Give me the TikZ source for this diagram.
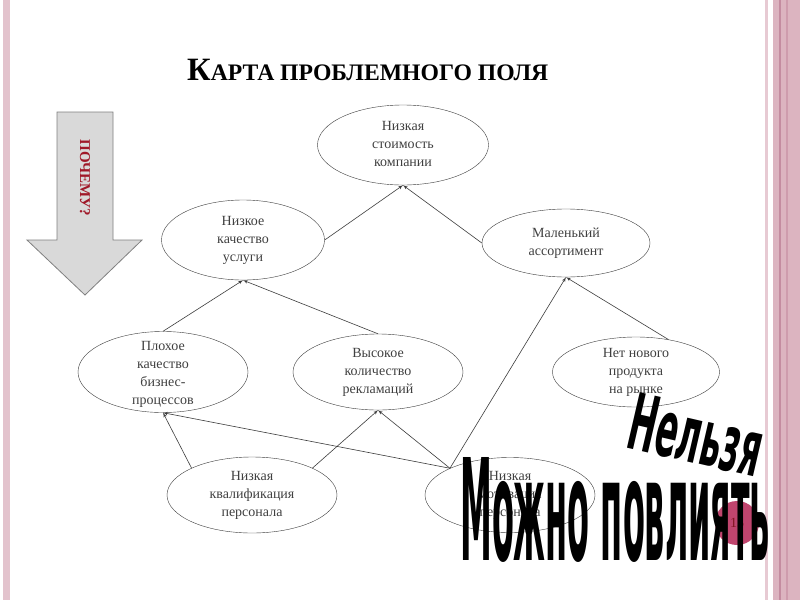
\documentclass[tikz,border=0pt]{standalone}
\usepackage{fontspec}
\setmainfont{Liberation Serif}
\setsansfont{Liberation Sans}
\newfontfamily\heavysans{DejaVu Sans Condensed}
\usepackage{tikz}
\usetikzlibrary{shapes,arrows}
\definecolor{framepink}{HTML}{DCB4C0}
\definecolor{framedark}{HTML}{C48CA0}
\definecolor{whyred}{HTML}{A01828}
\definecolor{numberdot}{HTML}{C0456E}
\definecolor{linegray}{HTML}{3C3C3C}
\tikzstyle{problem} = [draw=linegray, ellipse, fill=white, inner sep=0pt,
    minimum width=170pt, minimum height=76pt, text=black!75,
    font=\fontsize{14}{18}\selectfont]
\tikzstyle{link} = [draw=linegray, line width=0.6pt]
\newcommand{\ptext}[1]{\smash{\raisebox{-3pt}{\begin{tabular}{@{}c@{}}#1\end{tabular}}}}

\begin{document}
\begin{tikzpicture}[x=1pt, y=-1pt, >=latex']
        \useasboundingbox (0,0) rectangle (800,600);
        \fill [white] (0,0) rectangle (800,600);
        % slide frame
        \fill [framepink!80] (3,0) rectangle (10,600);
        \fill [framepink!70] (765,0) rectangle (768,600);
        \fill [framepink] (773,0) rectangle (800,600);
        \fill [framedark] (779,0) rectangle (780.5,600);
        \fill [framedark!60!framepink] (786,0) rectangle (787.5,600);

        \node [anchor=base west, inner sep=0pt] (title) at (187,80)
        {\resizebox{361pt}{!}{\bfseries\fontsize{33}{33}\selectfont К\fontsize{24}{24}\selectfont АРТА ПРОБЛЕМНОГО ПОЛЯ}};

        % the big arrow on the left
        \draw [draw=black!50, fill=black!15, line width=0.8pt] (57,112) -- (113,112) -- (113,240)
            -- (142,240) -- (85,295) -- (27,240) -- (57,240) -- cycle;
        \node [rotate=-90, text=whyred, font=\fontsize{15}{15}\bfseries] (why) at (85,178) {ПОЧЕМУ?};

        % the problems
        \node [problem, minimum width=171pt, minimum height=80pt] (cost) at (403,145)
            {\ptext{Низкая\\стоимость\\компании}};
        \node [problem, minimum width=163pt, minimum height=80pt] (quality) at (243,240)
            {\ptext{Низкое\\качество\\услуги}};
        \node [problem, minimum width=168pt, minimum height=68pt] (assort) at (566,243)
            {\ptext{Маленький\\ассортимент}};
        \node [problem, minimum height=81pt] (process) at (163,372)
            {\raisebox{-5pt}{\ptext{Плохое\\качество\\бизнес-\\процессов}}};
        \node [problem, right of=process, node distance=215pt] (claims)
            {\ptext{Высокое\\количество\\рекламаций}};
        \node [problem, right of=claims, node distance=258pt, minimum width=167pt, minimum height=70pt] (newprod)
            {\ptext{Нет нового\\продукта\\на рынке}};
        \node [problem] (qualif) at (252,495)
            {\ptext{Низкая\\квалификация\\персонала}};
        \node [problem, right of=qualif, node distance=258pt, minimum height=75pt] (motiv)
            {\ptext{Низкая\\мотивация\\персонала}};

        % causes point up to what they lead to
        \draw [link,->] (quality.east) -- (cost.south);
        \draw [link,->] (assort.west) -- (cost.south);
        \draw [link,->] (process.north) -- (quality.south);
        \draw [link,->] (claims.north) -- (quality.south);
        \draw [link,->] (newprod.45) -- (assort.south);
        \draw [link,->] (motiv.156) -- (assort.south);
        \draw [link,->] (qualif.156) -- (process.south);
        \draw [link,->] (motiv.156) -- (process.south);
        \draw [link,->] (qualif.24) -- (claims.south);
        \draw [link,->] (motiv.156) -- (claims.south);

        % page number
        \node [circle, fill=numberdot, minimum size=44pt, inner sep=0pt, text=whyred!80!black,
            font=\fontsize{14}{14}\selectfont] (page) at (737,523) {15};

        \node [rotate=-13, anchor=base west, inner sep=0pt] (cannot) at (624,447)
            {\resizebox{135pt}{57pt}{\heavysans\bfseries Нельзя}};
        \node [anchor=base west, inner sep=0pt] (can) at (460,560)
            {\resizebox{310pt}{103pt}{\heavysans\bfseries Можно повлиять}};
\end{tikzpicture}
\end{document}
